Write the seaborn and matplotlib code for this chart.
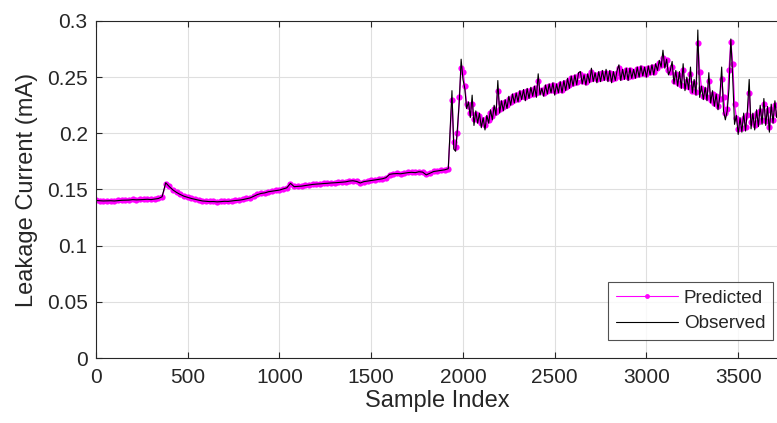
import numpy as np
import pandas as pd
import matplotlib
matplotlib.use("Agg")
import matplotlib.pyplot as plt
from matplotlib.ticker import FormatStrFormatter
import seaborn as sns

# Values, in units of 1e-3 mA (converted below)
# Part 1: sample index 0 .. 1920, every 20 samples
obs_part1 = [
    140.2, 140.0, 139.8, 139.9, 140.0, 139.8, 140.1, 140.4, 140.5, 140.6,   # 0
    141.0, 140.8, 140.9, 141.1, 141.3, 141.0, 141.5, 142.0, 143.5, 156.0,   # 200
    152.5, 149.5, 147.3, 145.5, 144.0, 143.0, 142.0, 141.2, 140.5, 139.8,   # 400
    139.5, 139.2, 139.3, 139.0, 139.2, 139.5, 139.4, 139.8, 140.2, 140.5,   # 600
    141.0, 141.8, 142.5, 144.0, 145.5, 146.5, 147.0, 148.0, 148.5, 149.0,   # 800
    149.5, 150.5, 151.5, 155.5, 152.5, 152.8, 153.0, 153.5, 154.0, 154.5,   # 1000
    154.8, 155.0, 155.3, 155.5, 155.8, 156.0, 156.2, 156.5, 156.8, 157.5,   # 1200
    157.8, 157.2, 155.8, 157.0, 157.5, 158.0, 158.5, 159.0, 159.5, 160.5,   # 1400
    163.5, 164.0, 164.2, 164.0, 164.5, 165.0, 165.3, 165.0, 165.8, 165.5,   # 1600
    163.0, 164.5, 166.0, 166.5, 167.0, 167.5, 168.5,                       # 1800
]
pred_part1 = [
    140.4, 140.2, 140.0, 140.1, 140.2, 140.0, 140.3, 140.5, 140.7, 140.8,
    141.1, 141.0, 141.1, 141.3, 141.4, 141.2, 141.6, 142.2, 143.2, 154.5,
    152.8, 149.8, 147.5, 145.8, 144.3, 143.2, 142.2, 141.4, 140.7, 140.0,
    139.7, 139.4, 139.5, 139.2, 139.4, 139.7, 139.6, 140.0, 140.4, 140.7,
    141.2, 142.0, 142.8, 144.2, 145.7, 146.7, 147.2, 148.2, 148.7, 149.2,
    149.7, 150.7, 151.5, 154.5, 153.0, 153.0, 153.2, 153.7, 154.2, 154.7,
    155.0, 155.2, 155.5, 155.7, 156.0, 156.2, 156.4, 156.7, 157.0, 157.6,
    158.0, 157.4, 156.2, 157.0, 157.7, 158.2, 158.7, 159.2, 159.7, 160.6,
    163.2, 164.2, 164.4, 164.2, 164.7, 165.2, 165.5, 165.2, 166.0, 165.7,
    163.6, 164.7, 166.2, 166.7, 167.2, 167.7, 168.6,
]

# Part 2: sample index 1940 .. 3710, every 10 samples
obs_part2 = [
    238, 186, 184, 205, 228, 266, 248, 240, 222, 228,   # 1940
    214, 234, 207, 220, 209, 218, 205, 214, 203, 216,   # 2040
    209, 221, 212, 225, 216, 247, 218, 229, 220, 230,   # 2140
    222, 233, 225, 235, 227, 236, 228, 238, 230, 239,   # 2240
    229, 240, 231, 241, 233, 242, 232, 253, 234, 240,   # 2340
    233, 243, 235, 244, 236, 245, 234, 244, 236, 246,   # 2440
    236, 247, 238, 249, 240, 251, 242, 252, 243, 254,   # 2540
    255, 244, 252, 243, 253, 245, 258, 246, 254, 245,   # 2640
    255, 246, 256, 247, 257, 246, 256, 245, 255, 247,   # 2740
    256, 261, 247, 257, 248, 258, 247, 258, 249, 257,   # 2840
    249, 259, 250, 260, 251, 259, 250, 260, 252, 261,   # 2940
    252, 262, 256, 265, 259, 274, 258, 266, 252, 256,   # 3040
    264, 244, 256, 242, 255, 240, 262, 238, 250, 239,   # 3140
    259, 236, 248, 234, 292, 232, 242, 230, 241, 229,   # 3240
    254, 227, 238, 224, 235, 221, 233, 259, 220, 212,   # 3340
    220, 240, 284, 250, 208, 216, 199, 214, 201, 218,   # 3440
    202, 220, 248, 204, 218, 203, 221, 206, 225, 208,   # 3540
    231, 207, 224, 201, 226, 209, 229, 214,             # 3640
]
pred_part2 = [
    230, 192, 188, 200, 232, 258, 255, 242, 226, 224,
    218, 226, 213, 217, 212, 215, 209, 212, 207, 214,
    212, 218, 215, 222, 219, 238, 222, 227, 223, 228,
    225, 231, 228, 233, 230, 234, 231, 236, 233, 237,
    232, 238, 234, 239, 235, 240, 236, 247, 238, 239,
    236, 241, 238, 242, 239, 243, 238, 242, 239, 244,
    239, 245, 241, 247, 243, 249, 245, 250, 246, 252,
    253, 247, 251, 246, 251, 248, 255, 249, 252, 248,
    253, 249, 254, 250, 254, 249, 254, 248, 253, 249,
    254, 258, 250, 255, 251, 256, 250, 256, 251, 255,
    252, 257, 253, 258, 254, 257, 253, 258, 255, 259,
    255, 260, 258, 263, 261, 267, 262, 265, 256, 255,
    259, 247, 253, 245, 252, 243, 256, 242, 247, 241,
    253, 238, 245, 237, 280, 255, 240, 233, 239, 232,
    247, 230, 235, 227, 233, 224, 231, 248, 232, 218,
    222, 256, 281, 262, 226, 214, 204, 211, 205, 214,
    206, 216, 236, 210, 215, 207, 218, 210, 220, 212,
    226, 211, 221, 206, 222, 212, 225, 217,
]

idx = np.concatenate([np.arange(0, 20 * len(obs_part1), 20),
                      np.arange(1940, 1940 + 10 * len(obs_part2), 10)])
observed = np.array(obs_part1 + obs_part2) / 1000.0
predicted = np.array(pred_part1 + pred_part2) / 1000.0

df = pd.DataFrame({"Sample Index": idx, "Observed": observed, "Predicted": predicted})

sns.set_style("white")
plt.rcParams["font.family"] = ["Liberation Sans", "DejaVu Sans"]

fig = plt.figure(figsize=(7.77, 4.23), dpi=100)
ax = fig.add_axes([96 / 777, 1 - 358 / 423, 1 - 96 / 777 + 0.002, (358 - 21) / 423])

sns.lineplot(data=df, x="Sample Index", y="Predicted", ax=ax, color="#FF00FF",
             linewidth=1.0, marker="o", markersize=4.5, markeredgecolor="#FF00FF",
             markeredgewidth=0, estimator=None, label="Predicted")
sns.lineplot(data=df, x="Sample Index", y="Observed", ax=ax, color="black",
             linewidth=0.8, estimator=None, label="Observed")

ax.set_xlim(0, 3720)
ax.set_ylim(0, 0.3)
ax.set_xticks([0, 500, 1000, 1500, 2000, 2500, 3000, 3500])
ax.set_yticks([0, 0.05, 0.1, 0.15, 0.2, 0.25, 0.3])
ax.yaxis.set_major_formatter(FormatStrFormatter("%g"))
ax.grid(True, color="#DFDFDF", linewidth=0.8)
ax.tick_params(direction="in", length=4, width=0.8, colors="#262626",
               labelsize=15, top=True, bottom=True, left=True)
ax.tick_params(axis="x", pad=7)
ax.tick_params(axis="y", pad=6)
for side in ["left", "top", "bottom"]:
    ax.spines[side].set_color("#262626")
    ax.spines[side].set_linewidth(0.8)
ax.spines["right"].set_visible(False)

ax.set_xlabel("Sample Index", fontsize=17, color="#262626", labelpad=2)
ax.set_ylabel("Leakage Current (mA)", fontsize=17, color="#262626", labelpad=6)

leg = ax.legend(loc="lower right", bbox_to_anchor=(773 / 777, 1 - 340 / 423),
                bbox_transform=fig.transFigure, borderaxespad=0, fontsize=13.6,
                frameon=True, fancybox=False, numpoints=1, handlelength=3.3,
                handletextpad=0.3, borderpad=0.4, labelspacing=0.45)
leg.get_frame().set_edgecolor("#262626")
leg.get_frame().set_linewidth(0.8)
leg.legend_handles[0].set_markersize(3.5)
leg.legend_handles[0].set_linewidth(0.8)

fig.savefig("out.png", dpi=100)
